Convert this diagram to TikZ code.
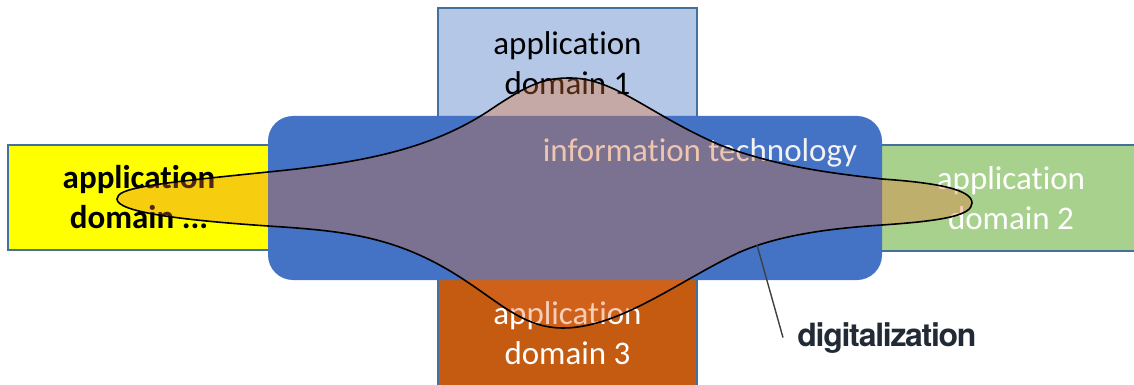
\documentclass[tikz,border=0pt]{standalone}
\usepackage{fontspec}
\setmainfont[Ligatures=NoCommon]{Carlito}
\newfontfamily\labelfont[LetterSpace=-4]{TeX Gyre Heros}
\usetikzlibrary{positioning}
\definecolor{boxline}{HTML}{41719C}
\definecolor{domainblue}{HTML}{B4C7E7}
\definecolor{domainyellow}{HTML}{FFFF00}
\definecolor{domaingreen}{HTML}{A9D18E}
\definecolor{domainorange}{HTML}{C55A11}
\definecolor{itblue}{HTML}{4472C4}
\definecolor{digitorange}{RGB}{232,112,45}
\definecolor{labeldark}{HTML}{222A35}

\begin{document}
\begin{tikzpicture}[
    x=0.5pt, y=-0.5pt,
    domainbox/.style={draw=boxline, line width=0.6pt, inner sep=0pt, align=center,
        font=\fontsize{16.5}{20}\selectfont},
    itbox/.style={fill=itblue, rounded corners=12.5pt, inner sep=0pt,
        minimum width=307pt, minimum height=82pt},
    itlabel/.style={text=white!95!black, font=\fontsize{16.5}{20}\selectfont},
    digit/.style={draw=black, line width=0.8pt, fill=digitorange, fill opacity=0.34},
    leader/.style={draw=black!75, line width=0.7pt},
    digilabel/.style={text=labeldark, font=\labelfont\bfseries\fontsize{16}{19}\selectfont,
        inner xsep=7pt}
]
    \useasboundingbox (0,0) rectangle (1134,385);

    % ==================== APPLICATION DOMAINS ====================
    \node[domainbox, fill=domainblue, minimum width=129.5pt, minimum height=55pt]
        (dom1) at (567.5,63) {application\\domain 1};
    \node[domainbox, fill=domainyellow, minimum width=131pt, minimum height=52.5pt,
        font=\fontsize{16.5}{20}\selectfont\bfseries]
        (domx) at (139,197.5) {application\\domain ...};
    \node[domainbox, fill=domaingreen, text=white, minimum width=131pt, minimum height=53pt]
        (dom2) at (1011,198) {application\\domain 2};
    \node[domainbox, fill=domainorange, text=white, minimum width=129.5pt, minimum height=55pt]
        (dom3) at (567.5,333) {application\\domain 3};

    % ==================== INFORMATION TECHNOLOGY ====================
    \node[itbox] (it) at (575,198) {};
    \node[itlabel, anchor=base] (ittext) at (700,162) {information technology};

    % ==================== DIGITALIZATION ====================
    \draw[digit] (117,199) .. controls (117,188) and (150,184) .. (268,172)
        .. controls (360,163) and (430,150) .. (490,110)
        .. controls (530,83) and (545,78) .. (570,78)
        .. controls (615,78) and (650,115) .. (720,145)
        .. controls (780,168) and (840,174) .. (882,179)
        .. controls (940,183) and (972,190) .. (972,203)
        .. controls (972,216) and (940,221) .. (882,225)
        .. controls (820,229) and (775,237) .. (740,252)
        .. controls (680,280) and (620,328) .. (563,328)
        .. controls (515,328) and (490,290) .. (430,260)
        .. controls (378,234) and (330,230) .. (268,226)
        .. controls (180,220) and (117,212) .. (117,199) -- cycle;
    \coordinate (dpt) at (757,245);

    % Label
    \node[digilabel, anchor=base west] (digi) at (783,346) {digitalization};
    \draw[leader] (dpt) -- (digi.west);
\end{tikzpicture}
\end{document}
